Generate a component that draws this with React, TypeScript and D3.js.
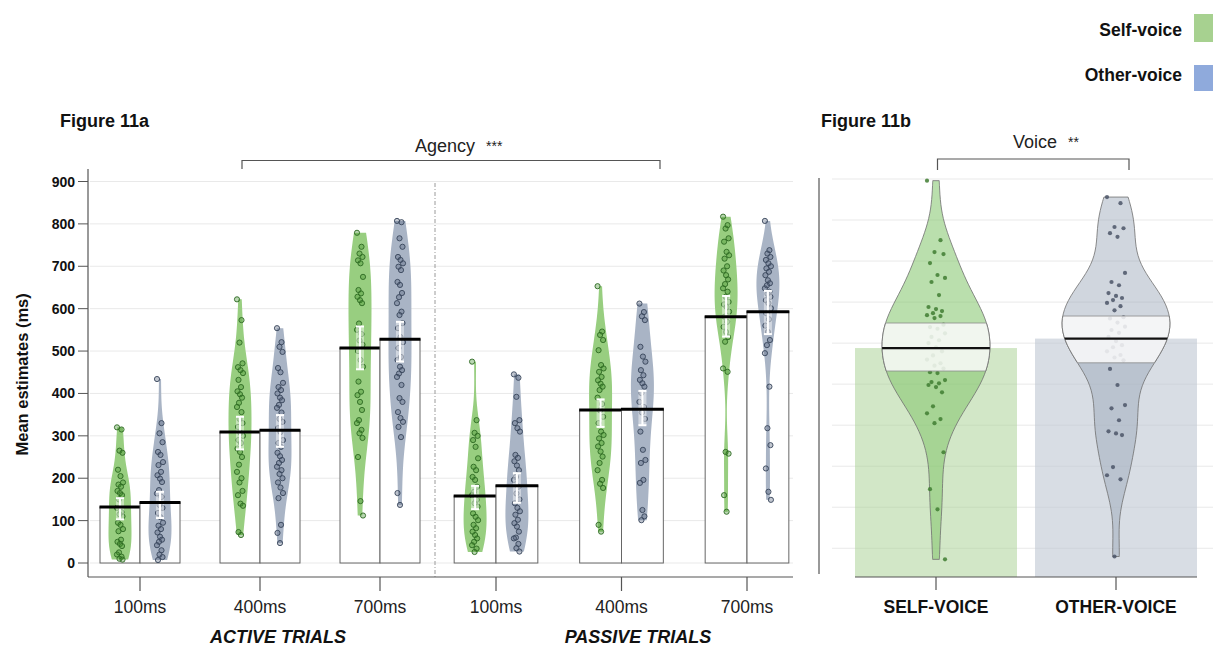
import React from 'react';
import * as d3 from 'd3';

// ---------- Figure 11a data (ms) ----------
const conditions = ['100ms', '400ms', '700ms'];
const trialLabels = ['ACTIVE TRIALS', 'PASSIVE TRIALS'];
const yTicks = [0, 100, 200, 300, 400, 500, 600, 700, 800, 900];

const activeSelfMean = [132, 309, 507];
const activeOtherMean = [143, 313, 528];
const passiveSelfMean = [158, 361, 581];
const passiveOtherMean = [182, 363, 593];

const activeSelfCI = [[103, 153], [268, 345], [457, 558]];
const activeOtherCI = [[106, 168], [274, 349], [475, 569]];
const passiveSelfCI = [[127, 182], [321, 386], [534, 630]];
const passiveOtherCI = [[142, 212], [325, 406], [540, 642]];

const activeSelf100 = [320, 315, 265, 260, 220, 205, 190, 185, 180, 170, 165, 160, 150, 130, 120, 115, 110, 95, 90, 80, 75, 55, 50, 45, 40, 25, 20, 15, 10, 8];
const activeOther100 = [434, 330, 306, 285, 262, 255, 238, 231, 215, 207, 199, 191, 172, 164, 156, 137, 130, 118, 108, 95, 88, 80, 72, 62, 55, 50, 42, 30, 20, 14, 7];
const activeSelf400 = [622, 573, 520, 471, 462, 455, 448, 432, 415, 405, 398, 390, 378, 368, 356, 340, 330, 321, 307, 300, 290, 283, 270, 262, 250, 232, 215, 200, 190, 170, 160, 140, 135, 73, 66];
const activeOther400 = [554, 521, 510, 498, 460, 450, 425, 415, 408, 400, 390, 384, 373, 366, 355, 340, 333, 318, 309, 290, 283, 274, 260, 252, 243, 236, 227, 219, 210, 200, 190, 178, 165, 153, 90, 71, 47];
const activeSelf700 = [779, 746, 730, 722, 714, 707, 675, 644, 636, 628, 620, 613, 565, 550, 540, 525, 515, 500, 479, 463, 428, 404, 396, 380, 361, 337, 330, 314, 306, 295, 250, 146, 112];
const activeOther700 = [807, 804, 766, 746, 722, 715, 707, 699, 691, 663, 656, 637, 627, 613, 593, 585, 566, 554, 533, 521, 507, 486, 479, 463, 455, 447, 439, 420, 389, 380, 356, 342, 333, 321, 297, 165, 137];
const passiveSelf100 = [475, 337, 307, 300, 290, 274, 247, 227, 219, 203, 196, 180, 168, 160, 149, 141, 133, 117, 109, 101, 90, 82, 74, 66, 58, 50, 42, 34, 26];
const passiveOther100 = [445, 437, 392, 337, 330, 318, 310, 255, 248, 240, 230, 219, 203, 196, 180, 164, 150, 141, 130, 122, 114, 102, 94, 86, 74, 60, 58, 45, 35, 27];
const passiveSelf400 = [653, 546, 538, 526, 502, 467, 459, 451, 439, 431, 423, 416, 408, 390, 375, 360, 345, 330, 310, 302, 294, 283, 275, 263, 251, 236, 219, 196, 187, 177, 90, 74];
const passiveOther400 = [612, 592, 582, 573, 510, 487, 475, 455, 443, 432, 424, 416, 401, 380, 368, 355, 340, 310, 267, 243, 236, 196, 189, 125, 110, 101];
const passiveSelf700 = [817, 797, 789, 766, 758, 734, 726, 718, 700, 690, 679, 669, 658, 648, 640, 628, 616, 610, 604, 593, 581, 569, 557, 545, 533, 522, 459, 451, 262, 258, 160, 121];
const passiveOther700 = [807, 738, 730, 722, 715, 707, 700, 695, 687, 679, 667, 660, 655, 648, 640, 635, 628, 620, 613, 601, 589, 575, 560, 545, 526, 514, 495, 416, 318, 278, 223, 168, 149];

// ---------- Figure 11b data ----------
const voiceLabels = ['SELF-VOICE', 'OTHER-VOICE'];
const voiceMeans = [488, 511];
const voiceBands = [[432, 549], [452, 566]];
const selfVoicePoints = [896, 751, 722, 717, 695, 666, 659, 649, 617, 588, 583, 578, 573, 568, 566, 561, 545, 539, 535, 524, 515, 507, 500, 490, 480, 470, 460, 451, 445, 438, 429, 427, 410, 405, 402, 398, 393, 380, 346, 329, 315, 305, 234, 144, 95, -27];
const otherVoicePoints = [856, 841, 783, 780, 768, 759, 671, 649, 641, 622, 615, 610, 605, 598, 590, 580, 563, 560, 550, 540, 532, 525, 515, 505, 495, 490, 480, 471, 465, 458, 437, 398, 349, 341, 312, 285, 280, 276, 198, 178, 168, -20];
const voiceBeanAdjust = [1.25, 1];

const legendItems = ['Self-voice', 'Other-voice'];
const legendColors = ['#a7d190', '#8faadc'];

const FONT = '"Liberation Sans", Arial, Helvetica, sans-serif';
const jitter = [-3, 1.5, -0.5, 2.5, -2, 0.5, 3, -1.5, 1, -2.5, 0, 2, -1];

// Kernel-density bean, truncated at the data range, as a vertical area path
function beanPath(vals: number[], cx: number, halfW: number, y: (v: number) => number, adjust = 1) {
  const n = vals.length;
  const sorted = vals.slice().sort((a, b) => a - b);
  const sd = d3.deviation(sorted) as number;
  const iqr = (d3.quantile(sorted, 0.75) as number) - (d3.quantile(sorted, 0.25) as number);
  const bw = adjust * 0.9 * Math.min(sd, iqr / 1.34) * Math.pow(n, -0.2);
  const lo = sorted[0], hi = sorted[n - 1];
  const steps = 80;
  const grid = d3.range(steps + 1).map(i => lo + ((hi - lo) * i) / steps);
  const dens = grid.map(v => d3.sum(sorted, u => Math.exp(-0.5 * ((v - u) / bw) ** 2)));
  const mx = d3.max(dens) as number;
  const pts = grid.map((v, i) => ({ v, w: (halfW * dens[i]) / mx }));
  return d3.area<{ v: number; w: number }>()
    .y(d => y(d.v))
    .x0(d => cx - d.w)
    .x1(d => cx + d.w)
    .curve(d3.curveBasis)(pts) as string;
}

export default function App() {
  const W = 1213, H = 646;

  // ---- scales, figure 11a ----
  const yA = d3.scaleLinear().domain([0, 900]).range([563, 181.5]);
  const xActive = d3.scalePoint<string>().domain(conditions).range([140, 380]);
  const xPassive = d3.scalePoint<string>().domain(conditions).range([496, 747]);

  const panels = [
    { label: trialLabels[0], x: xActive, labelX: 278,
      self: [activeSelf100, activeSelf400, activeSelf700], other: [activeOther100, activeOther400, activeOther700],
      selfMean: activeSelfMean, otherMean: activeOtherMean, selfCI: activeSelfCI, otherCI: activeOtherCI },
    { label: trialLabels[1], x: xPassive, labelX: 638,
      self: [passiveSelf100, passiveSelf400, passiveSelf700], other: [passiveOther100, passiveOther400, passiveOther700],
      selfMean: passiveSelfMean, otherMean: passiveOtherMean, selfCI: passiveSelfCI, otherCI: passiveOtherCI },
  ];

  const beanColors = { self: '#98ce80', other: '#a9b4c5' };
  const ptFill = { self: 'rgba(60,140,40,0.35)', other: 'rgba(80,95,120,0.35)' };
  const ptStroke = { self: '#2e6a22', other: '#38455a' };

  // ---- scales, figure 11b ----
  const yB = d3.scaleLinear().domain([-70, 900]).range([577, 179]);
  const xB = d3.scaleBand<string>().domain(voiceLabels).range([855, 1197]).paddingInner(0.1);
  const voicePts = [selfVoicePoints, otherVoicePoints];
  const bBar = ['rgba(166,208,143,0.5)', 'rgba(190,198,210,0.6)'];
  const bBean = ['rgba(130,196,105,0.55)', 'rgba(150,163,182,0.45)'];
  const bPt = ['#3f7d31', '#4b5567'];

  const g11a: JSX.Element[] = [];
  panels.forEach((p, pi) => {
    const bw = p.x.step() / 3;
    conditions.forEach((c, ci) => {
      const cx = p.x(c) as number;
      const groups = [
        { key: 'self' as const, vals: p.self[ci], mean: p.selfMean[ci], ci: p.selfCI[ci], x0: cx - bw },
        { key: 'other' as const, vals: p.other[ci], mean: p.otherMean[ci], ci: p.otherCI[ci], x0: cx },
      ];
      groups.forEach((g, gi) => {
        const mid = g.x0 + bw / 2;
        const k = `${pi}-${ci}-${gi}`;
        g11a.push(
          <g key={k}>
            <rect x={g.x0} y={yA(g.mean)} width={bw} height={yA(0) - yA(g.mean)} fill="#fff" stroke="#666" strokeWidth={1} />
            <path d={beanPath(g.vals, mid, 11.5, yA)} fill={beanColors[g.key]} />
            {g.vals.map((v, i) => (
              <circle key={i} cx={mid + jitter[i % jitter.length]} cy={yA(v)} r={2.6}
                fill={ptFill[g.key]} stroke={ptStroke[g.key]} strokeWidth={0.9} />
            ))}
            <rect x={mid - 4} y={yA(g.ci[1])} width={8} height={yA(g.ci[0]) - yA(g.ci[1])} fill="#fff" opacity={0.45} />
            <g stroke="#fff" strokeWidth={2}>
              <line x1={mid} x2={mid} y1={yA(g.ci[0])} y2={yA(g.ci[1])} />
              <line x1={mid - 4} x2={mid + 4} y1={yA(g.ci[0])} y2={yA(g.ci[0])} />
              <line x1={mid - 4} x2={mid + 4} y1={yA(g.ci[1])} y2={yA(g.ci[1])} />
            </g>
            <line x1={g.x0 - 0.5} x2={g.x0 + bw + 0.5} y1={yA(g.mean)} y2={yA(g.mean)} stroke="#000" strokeWidth={3} />
          </g>
        );
      });
    });
  });

  return (
    <div style={{ position: 'absolute', left: 0, top: 0 }}>
      <svg width={W} height={H} style={{ display: 'block', background: '#fff' }} fontFamily={FONT}>
        {/* Legend */}
        {legendItems.map((l, i) => (
          <g key={l}>
            <text x={1182} y={30 + i * 44.5} textAnchor="end" dominantBaseline="central" fontSize={17.5} fontWeight="bold" fill="#111">{l}</text>
            <rect x={1194} y={i ? 65 : 14} width={25} height={i ? 26 : 28} fill={legendColors[i]} />
          </g>
        ))}

        {/* ---------------- Figure 11a ---------------- */}
        <text x={60} y={127} fontSize={18} fontWeight="bold" fill="#111">Figure 11a</text>

        {yTicks.map(t => (
          <line key={t} x1={90} x2={793} y1={yA(t)} y2={yA(t)} stroke="#e9e9e9" strokeWidth={1} />
        ))}
        <line x1={435} x2={435} y1={183} y2={577} stroke="#9a9a9a" strokeWidth={1} strokeDasharray="4,2,1,2" />

        {g11a}

        {/* y axis */}
        <line x1={88} x2={88} y1={169} y2={577} stroke="#555" strokeWidth={1.2} />
        {yTicks.map(t => (
          <g key={t}>
            <line x1={78} x2={88} y1={yA(t)} y2={yA(t)} stroke="#555" strokeWidth={1} />
            <text x={75} y={yA(t)} textAnchor="end" dominantBaseline="central" fontSize={14} fontWeight="bold" fill="#111">{t}</text>
          </g>
        ))}
        <text transform={`translate(22,${yA(445)}) rotate(-90)`} textAnchor="middle" dominantBaseline="central" fontSize={16.5} fontWeight="bold" fill="#111">Mean estimates (ms)</text>

        {/* x axis */}
        <line x1={88} x2={793} y1={577} y2={577} stroke="#555" strokeWidth={1.2} />
        {panels.map(p => (
          <g key={p.label}>
            {conditions.map(c => (
              <g key={c}>
                <line x1={p.x(c)} x2={p.x(c)} y1={577} y2={591} stroke="#555" strokeWidth={1.2} />
                <text x={p.x(c)} y={613} textAnchor="middle" fontSize={17.5} fill="#222">{c}</text>
              </g>
            ))}
            <text x={p.labelX} y={643} textAnchor="middle" fontSize={18} fontWeight="bold" fontStyle="italic" fill="#111">{p.label}</text>
          </g>
        ))}

        {/* Agency bracket */}
        <path d="M242,169V160.5H660V169" fill="none" stroke="#555" strokeWidth={1.2} />
        <text x={415} y={152} fontSize={18} fill="#222">Agency<tspan dx={11} fontSize={14} dy={-1}>***</tspan></text>

        {/* ---------------- Figure 11b ---------------- */}
        <text x={821} y={127} fontSize={18} fontWeight="bold" fill="#111">Figure 11b</text>
        {yTicks.map(t => (
          <line key={t} x1={832} x2={1213} y1={yB(t)} y2={yB(t)} stroke="#e9e9e9" strokeWidth={1} />
        ))}
        {voiceLabels.map((v, i) => {
          const x0 = xB(v) as number;
          const bw = xB.bandwidth();
          const cx = x0 + bw / 2;
          const d = beanPath(voicePts[i], cx, 54, yB, voiceBeanAdjust[i]);
          const clipId = `band-${i}`;
          return (
            <g key={v}>
              <clipPath id={clipId}>
                <rect x={cx - 80} y={yB(voiceBands[i][1])} width={160} height={yB(voiceBands[i][0]) - yB(voiceBands[i][1])} />
              </clipPath>
              <clipPath id={`bean-${i}`}><path d={d} /></clipPath>
              <rect x={x0} y={yB(voiceMeans[i])} width={bw} height={yB(-70) - yB(voiceMeans[i])} fill={bBar[i]} />
              <path d={d} fill={bBean[i]} stroke="#6f6f6f" strokeWidth={0.8} />
              {voicePts[i].map((p, j) => (
                <circle key={j} cx={cx + jitter[j % jitter.length] * 3} cy={yB(p)} r={2.1} fill={bPt[i]} opacity={0.85} />
              ))}
              <path d={d} fill="#fafafa" opacity={0.85} clipPath={`url(#${clipId})`} />
              <g clipPath={`url(#${clipId})`}>
                <path d={d} fill="none" stroke="#6f6f6f" strokeWidth={0.8} />
              </g>
              <g clipPath={`url(#bean-${i})`}>
                <line x1={cx - 80} x2={cx + 80} y1={yB(voiceBands[i][1])} y2={yB(voiceBands[i][1])} stroke="#8a8a8a" strokeWidth={0.8} />
                <line x1={cx - 80} x2={cx + 80} y1={yB(voiceBands[i][0])} y2={yB(voiceBands[i][0])} stroke="#8a8a8a" strokeWidth={0.8} />
                <line x1={cx - 80} x2={cx + 80} y1={yB(voiceMeans[i])} y2={yB(voiceMeans[i])} stroke="#111" strokeWidth={2.2} />
              </g>
              <line x1={cx} x2={cx} y1={577} y2={590} stroke="#555" strokeWidth={1.2} />
              <text x={cx} y={613} textAnchor="middle" fontSize={17.5} fontWeight="bold" fill="#111">{v}</text>
            </g>
          );
        })}
        <line x1={819} x2={819} y1={178} y2={574} stroke="#555" strokeWidth={1.2} />
        <line x1={855} x2={1197} y1={577} y2={577} stroke="#555" strokeWidth={1.2} />
        <path d="M937.5,170V159H1129V170" fill="none" stroke="#555" strokeWidth={1.2} />
        <text x={1013} y={148} fontSize={18} fill="#222">Voice<tspan dx={11} fontSize={14} dy={-1}>**</tspan></text>
      </svg>
    </div>
  );
}
